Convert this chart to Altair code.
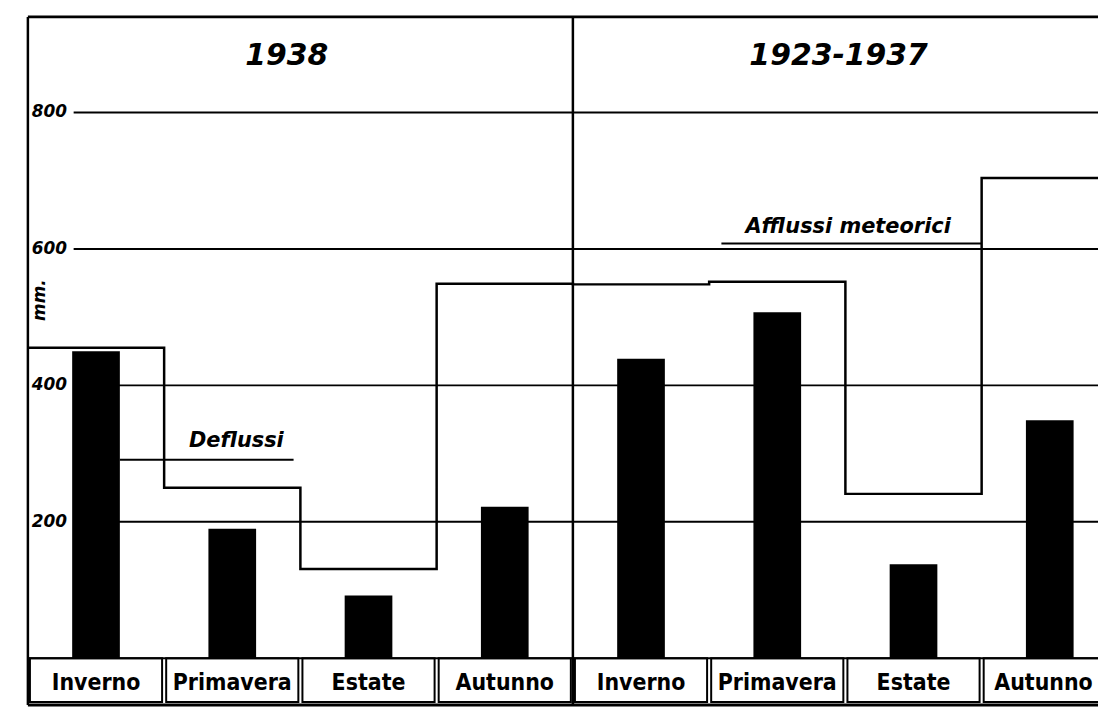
import altair as alt
import pandas as pd

# ---- data ----
seasons = ["Inverno", "Primavera", "Estate", "Autunno"]
periods = ["1938", "1923-1937"]
deflussi_1938 = [450, 190, 92, 222]
afflussi_1938 = [455, 250, 131, 549]
deflussi_1923_1937 = [439, 507, 138, 349]
afflussi_1923_1937 = [548, 552, 241, 704]
grid_values = [200, 400, 600, 800]
grid_labels = ["200", "400", "600", "800"]

# ---- layout ----
PX_PER_UNIT = 137
W = 1076
H = 692
XMAX = W / PX_PER_UNIT
YMIN, YMAX = -68.5, 940

xs = alt.Scale(domain=[0, XMAX], nice=False, zero=False)
ys = alt.Scale(domain=[YMIN, YMAX], nice=False, zero=False)

defl = deflussi_1938 + deflussi_1923_1937
affl = afflussi_1938 + afflussi_1923_1937
cats = seasons * 2

bars_df = pd.DataFrame({
    "i": list(range(8)),
    "season": cats,
    "deflussi": defl,
})
bars_df["x0"] = bars_df["i"] + 0.5 - 0.175
bars_df["x1"] = bars_df["i"] + 0.5 + 0.175
bars_df["xc"] = bars_df["i"] + 0.5
# the last box is cut by the picture's right edge: centre its label on the visible part
bars_df["tx"] = bars_df["xc"].clip(upper=XMAX - 0.4)
bars_df["b0"] = bars_df["i"] + 0.015
bars_df["b1"] = bars_df["i"] + 0.985
bars_df["zero"] = 0
bars_df["lo"] = -64
bars_df["ty"] = -36

step_rows = []
for i, v in enumerate(affl):
    step_rows.append({"o": 2 * i, "x": i, "v": v})
    step_rows.append({"o": 2 * i + 1, "x": i + 1, "v": v})
step_df = pd.DataFrame(step_rows)


def X(f):
    return alt.X(f, type="quantitative", scale=xs, axis=None)


def Y(f):
    return alt.Y(f, type="quantitative", scale=ys, axis=None)


grid_df = pd.DataFrame({"v": grid_values, "lab": grid_labels})

grid = alt.Chart(grid_df).mark_rule(color="black", strokeWidth=2).encode(
    y=Y("v"), x=alt.value(46), x2=alt.value(W)
)
grid_text = alt.Chart(grid_df).mark_text(
    align="left", baseline="middle", font="DejaVu Sans", fontStyle="italic",
    fontWeight="bold", fontSize=17, color="black"
).encode(y=Y("v"), x=alt.value(4), text="lab:N")

bars = alt.Chart(bars_df).mark_bar(color="black").encode(
    x=X("x0"), x2="x1", y=Y("deflussi"), y2="zero"
)

step = alt.Chart(step_df).mark_line(color="black", strokeWidth=2.5).encode(
    x=X("x"), y=Y("v"), order="o:Q"
)

boxes = alt.Chart(bars_df).mark_rect(
    fill="white", stroke="black", strokeWidth=2
).encode(x=X("b0"), x2="b1", y=Y("lo"), y2="zero")

box_text = alt.Chart(bars_df).mark_text(
    font="DejaVu Sans Condensed, Liberation Sans Narrow, Liberation Sans",
    fontWeight="bold", fontSize=23,
    baseline="middle", color="black"
).encode(x=X("tx"), y=Y("ty"), text="season:N")

title_df = pd.DataFrame({"t": periods, "x": [1.9, 5.95], "y": [882, 882]})
titles = alt.Chart(title_df).mark_text(
    font="DejaVu Sans", fontStyle="italic", fontWeight="bold", fontSize=30,
    baseline="middle", color="black"
).encode(x=X("x"), y=Y("y"), text="t:N")

ann_df = pd.DataFrame({
    "t": ["Deflussi", "Afflussi meteorici"],
    "x": [1.53, 6.02], "y": [318, 632],
})
ann = alt.Chart(ann_df).mark_text(
    font="DejaVu Sans", fontStyle="italic", fontWeight="bold", fontSize=21,
    baseline="middle", color="black"
).encode(x=X("x"), y=Y("y"), text="t:N")

lead_df = pd.DataFrame({"x": [0.675, 5.09], "x2": [1.95, 7.0], "y": [291, 608]})
leads = alt.Chart(lead_df).mark_rule(color="black", strokeWidth=2).encode(
    x=X("x"), x2="x2", y=Y("y")
)

mm = alt.Chart(pd.DataFrame({"t": ["mm."], "y": [525]})).mark_text(
    font="DejaVu Sans", fontStyle="italic", fontWeight="bold", fontSize=17,
    angle=270, baseline="middle", color="black"
).encode(x=alt.value(12), y=Y("y"), text="t:N")

frame_h = alt.Chart(pd.DataFrame({"y": [YMAX, YMIN]})).mark_rule(
    color="black", strokeWidth=3
).encode(y=Y("y"), x=alt.value(0), x2=alt.value(W))
frame_v = alt.Chart(pd.DataFrame({"x": [0, 4]})).mark_rule(
    color="black", strokeWidth=2.5
).encode(x=X("x"), y=alt.value(0), y2=alt.value(H))
base = alt.Chart(pd.DataFrame({"y": [0]})).mark_rule(color="black", strokeWidth=2).encode(
    y=Y("y"), x=alt.value(0), x2=alt.value(W)
)

chart = alt.layer(
    grid, grid_text, step, bars, boxes, box_text, base, titles, ann, leads, mm,
    frame_h, frame_v
).properties(
    width=W, height=H,
    autosize=alt.AutoSizeParams(type="none"),
    padding={"left": 20, "top": 7, "right": 0, "bottom": 0},
).configure_view(stroke=None).configure(background="white")

chart.save("out.html", embed_options={"renderer": "svg", "actions": False})
